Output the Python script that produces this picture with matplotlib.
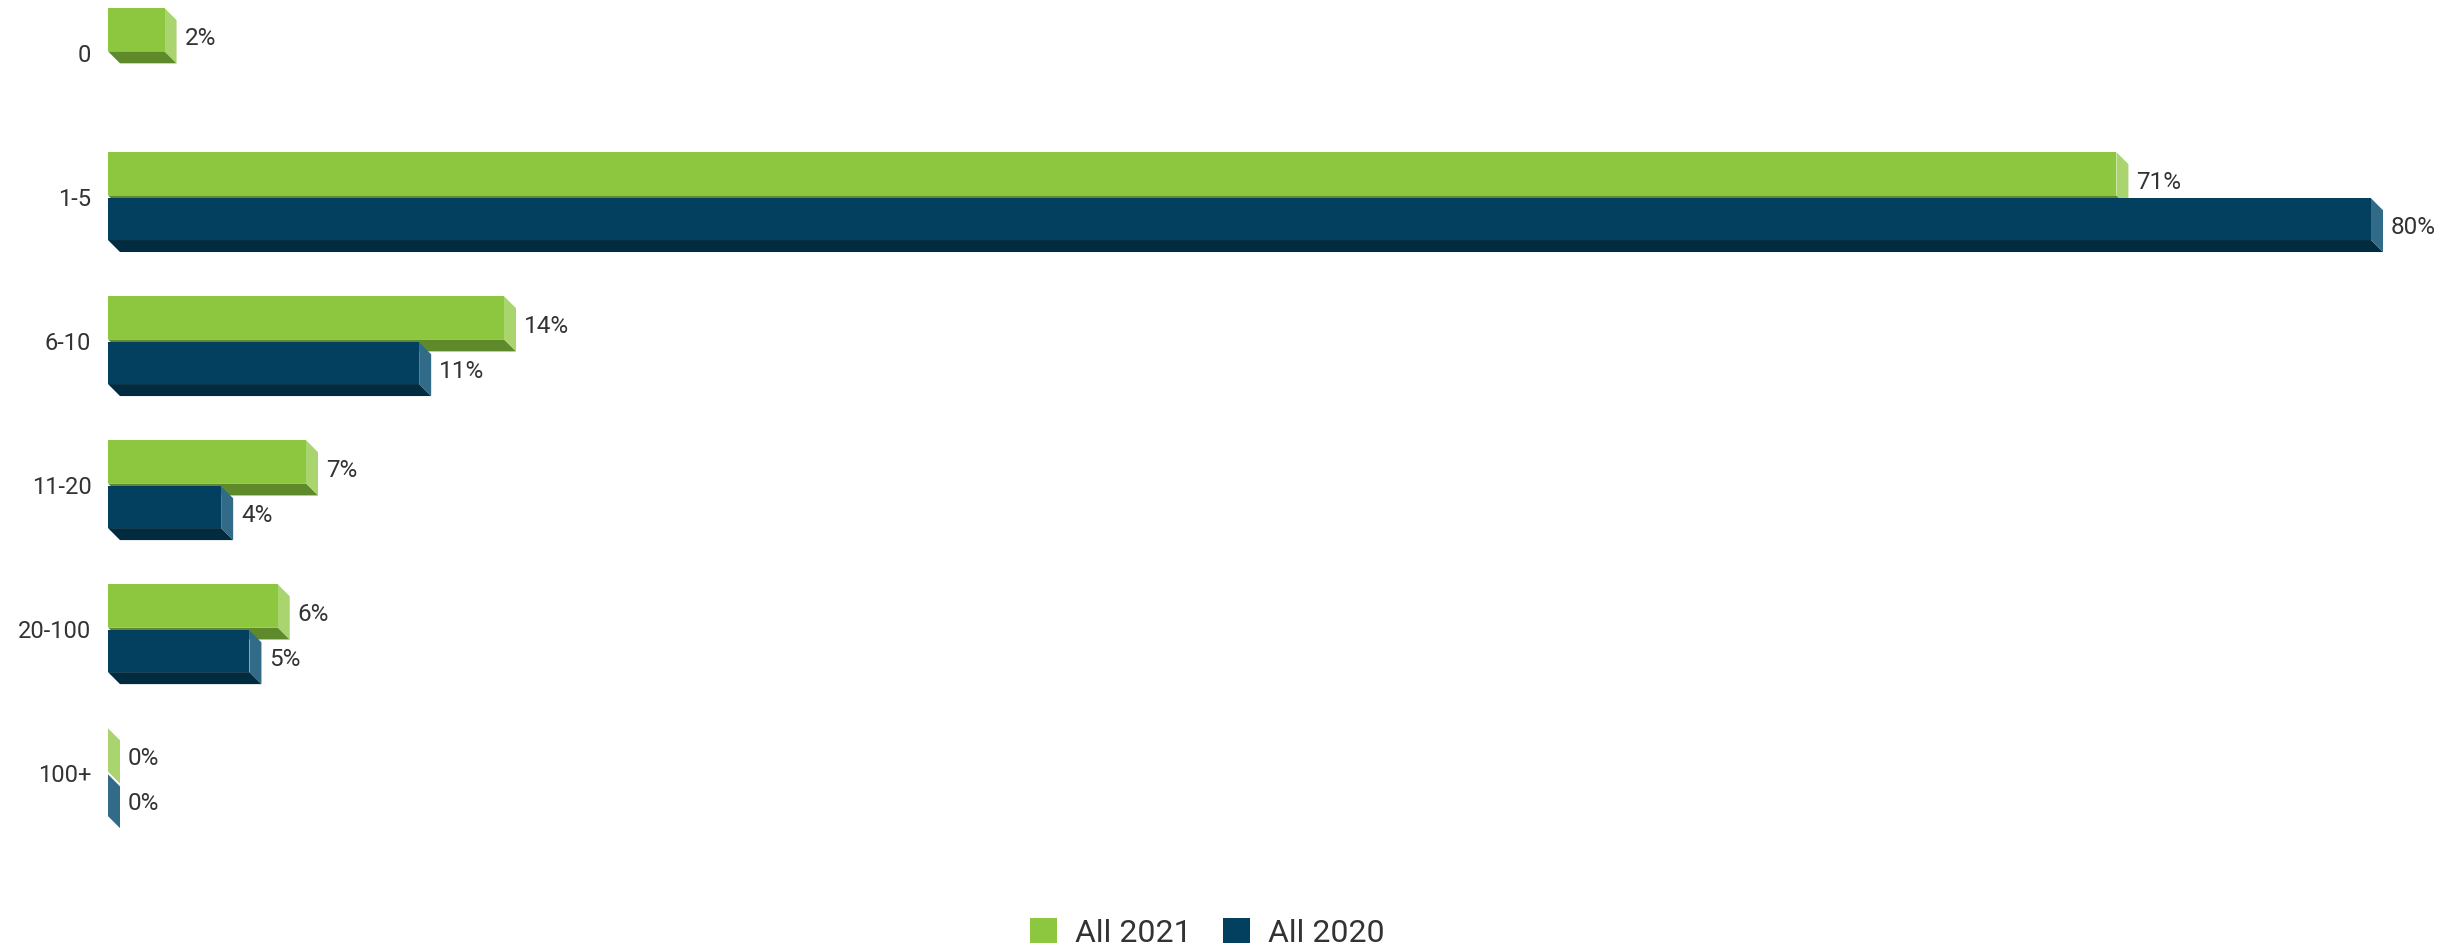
#! /usr/bin/env python3
# coding: utf-8

import matplotlib
matplotlib.use('Agg')
import matplotlib.pyplot as plt
from matplotlib.patches import Polygon, Patch

plt.rcParams['font.family'] = ['Roboto', 'DejaVu Sans']

categories = ['0', '1-5', '6-10', '11-20', '20-100', '100+']
all_2021 = [2, 71, 14, 7, 6, 0]
all_2020 = [None, 80, 11, 4, 5, 0]

series = [
    ('All 2021', all_2021, ('#8dc63f', '#a9d46e', '#5f8a2c'), (-0.31, -0.01)),
    ('All 2020', all_2020, ('#03405f', '#326b87', '#012b3e'), (0.01, 0.30)),
]

W, H, DPI = 2459, 948, 100
DEPTH = 12  # px
TEXT = '#333333'


def draw_bar(ax, y, v, span, colors, dx, dy):
    front, side, bottom = colors
    top, bot = y + span[0], y + span[1]
    # bottom face, then right face, then front
    ax.add_patch(Polygon([(0, bot), (v, bot), (v + dx, bot + dy), (dx, bot + dy)],
                         closed=True, fc=bottom, ec='none', clip_on=False))
    ax.add_patch(Polygon([(v, top), (v + dx, top + dy), (v + dx, bot + dy), (v, bot)],
                         closed=True, fc=side, ec='none', clip_on=False))
    if v > 0:
        ax.add_patch(Polygon([(0, top), (v, top), (v, bot), (0, bot)],
                             closed=True, fc=front, ec='none', clip_on=False))


def main():
    fig = plt.figure(figsize=(W / DPI, H / DPI), dpi=DPI)
    ax = fig.add_axes([108 / W, 0.0935, 2263 / W, 0.904])
    ax.set_xlim(0, 80)
    ax.set_ylim(5.6, -0.35)

    # depth in data units
    p0 = ax.transData.transform((0, 0))
    p1 = ax.transData.transform((1, 1))
    px_x = p1[0] - p0[0]
    px_y = p0[1] - p1[1]
    dx = DEPTH / px_x
    dy = DEPTH / px_y
    gap = 8 / px_x

    for i, cat in enumerate(categories):
        for name, values, colors, span in series:
            v = values[i]
            if v is None:
                continue
            draw_bar(ax, i, v, span, colors, dx, dy)
            ymid = i + (span[0] + span[1]) / 2 + dy * 0.7
            ax.text(v + dx + gap, ymid, '{}%'.format(v), ha='left', va='center',
                    fontsize=17.5, color=TEXT, clip_on=False)

    ax.set_yticks(range(len(categories)))
    ax.set_yticklabels(categories, fontsize=17, color=TEXT)
    ax.tick_params(axis='y', length=0, pad=12)
    ax.set_xticks([])
    for s in ax.spines.values():
        s.set_visible(False)

    handles = [Patch(facecolor=c[0], edgecolor='none', label=n) for n, _, c, _ in series]
    fig.legend(handles=handles, loc='lower center', bbox_to_anchor=(0.491, -0.03),
               ncol=2, frameon=False, fontsize=23, handlelength=0.85, handleheight=0.85,
               handletextpad=0.55, columnspacing=1.0, labelcolor=TEXT)

    fig.savefig('out.png', dpi=DPI)


main()
